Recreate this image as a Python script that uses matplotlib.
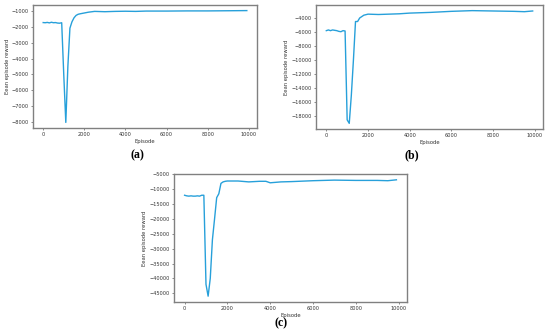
import numpy as np
import matplotlib; matplotlib.use("Agg"); import matplotlib.pyplot as plt

# episode grid for the three runs
ep_a = [0, 100, 200, 300, 400, 500, 600, 700, 800, 900, 1000, 1100, 1200, 1300, 1400, 1500, 1600, 1700,
        1800, 2000, 2200, 2500, 3000, 3500, 4000, 4500, 5000, 6000, 7000, 8000, 9000, 9900]
rew_a = [-1750, -1760, -1740, -1770, -1730, -1760, -1750, -1780, -1790, -1760, -5000, -8000, -4500, -2100,
         -1700, -1450, -1300, -1230, -1200, -1150, -1100, -1050, -1070, -1050, -1040, -1050, -1030, -1030,
         -1020, -1020, -1010, -1000]

ep_b = [0, 100, 200, 300, 400, 500, 600, 700, 800, 900, 1000, 1100, 1200, 1300, 1400, 1500, 1600, 1700,
        1800, 2000, 2500, 3000, 3500, 4000, 4500, 5000, 6000, 7000, 8000, 9000, 9500, 9900]
rew_b = [-5800, -5700, -5800, -5700, -5750, -5800, -5900, -5950, -5800, -5850, -18500, -19000, -15000,
         -10000, -4500, -4500, -4000, -3800, -3600, -3450, -3500, -3450, -3400, -3300, -3250, -3200, -3050,
         -2950, -3000, -3050, -3100, -3000]

ep_c = [0, 100, 200, 300, 400, 500, 600, 700, 800, 900, 1000, 1100, 1200, 1300, 1400, 1500, 1600, 1700,
        1800, 1900, 2000, 2500, 3000, 3500, 3800, 4000, 4500, 5000, 6000, 7000, 8000, 9000, 9500, 9900]
rew_c = [-12000, -12200, -12300, -12200, -12300, -12300, -12200, -12300, -12000, -12000, -42000, -46000,
         -40000, -27000, -20000, -12800, -11500, -8000, -7500, -7300, -7200, -7200, -7500, -7300, -7300,
         -7800, -7500, -7400, -7100, -6900, -7000, -7000, -7100, -6800]

panels = [("(a)", ep_a, rew_a), ("(b)", ep_b, rew_b), ("(c)", ep_c, rew_c)]
# axes boxes in pixels: left, top, right, bottom ; caption position
W, H = 550, 336
boxes = [(33, 5, 257, 128), (316, 5, 543, 129), (174, 174, 407, 302)]
caps = [(137, 155), (412, 155), (281, 323)]

fig = plt.figure(figsize=(5.5, 3.36), dpi=100)
for (lab, x, y), (l, t, r, b), (cx, cy) in zip(panels, boxes, caps):
    ax = fig.add_axes([l / W, 1 - b / H, (r - l) / W, (b - t) / H])
    ax.plot(x, y, color="#27a0da", lw=1.0)
    ax.set_xticks(range(0, 10001, 2000))
    ax.tick_params(labelsize=3.6, length=1.5, width=0.4, pad=1.5, colors="#333333")
    ax.set_xlabel("Episode", fontsize=3.8, labelpad=1.5, color="#333333")
    ax.set_ylabel("Eean episode reward", fontsize=3.8, labelpad=1.5, color="#333333")
    for s in ax.spines.values():
        s.set_color("#808080"); s.set_linewidth(1.0)
    fig.text(cx / W, 1 - cy / H, lab, ha="center", va="center", fontsize=8.5,
             family="Liberation Serif", fontweight="bold")
fig.savefig("out.png", dpi=100)
